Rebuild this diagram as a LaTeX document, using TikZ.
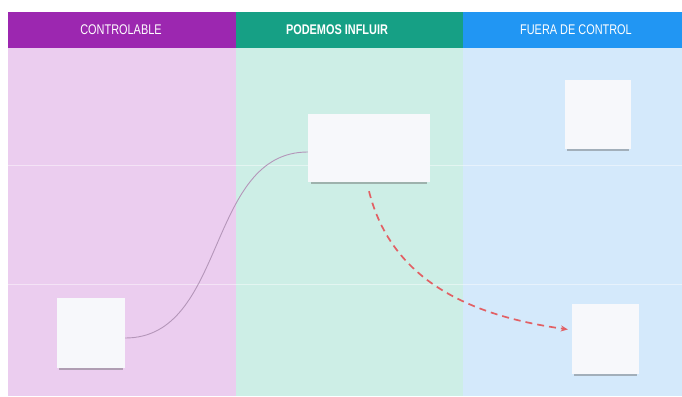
\documentclass[tikz,border=0pt]{standalone}
\usepackage{fontspec}
\setmainfont{Liberation Sans}
\usetikzlibrary{arrows.meta,shadows,positioning}

\definecolor{cabmorado}{RGB}{156,39,176}
\definecolor{cabverde}{RGB}{22,160,133}
\definecolor{cabazul}{RGB}{33,150,243}
\definecolor{fondomorado}{RGB}{235,205,239}
\definecolor{fondoverde}{RGB}{205,238,230}
\definecolor{fondoazul}{RGB}{212,233,251}
\definecolor{nota}{RGB}{247,248,251}
\definecolor{curva}{RGB}{180,150,185}
\definecolor{rojo}{RGB}{226,96,100}

\begin{document}
\begin{tikzpicture}[x=1pt, y=-1pt,
  titulo/.style={text=white, font=\addfontfeature{FakeStretch=0.78}\fontsize{14}{16}\selectfont, anchor=center},
  nota/.style={fill=nota, inner sep=0pt, drop shadow={shadow xshift=0pt, shadow yshift=-4pt, shadow scale=0.95, opacity=.4, fill=black!65}},
  flecha/.style={->, >={Stealth[length=7pt,width=6pt]}, draw=rojo, line width=1.7pt, dash pattern=on 7pt off 5pt, shorten >=4pt}]
\useasboundingbox (0,0) rectangle (682,396);
\fill[white] (0,0) rectangle (682,396);
% columnas
\fill[fondomorado] (8,48) rectangle (236,396);
\fill[fondoverde] (236,48) rectangle (463,396);
\fill[fondoazul] (463,48) rectangle (682,396);
\fill[cabmorado] (8,12) rectangle (236,48);
\fill[cabverde] (236,12) rectangle (463,48);
\fill[cabazul] (463,12) rectangle (682,48);
\draw[white, opacity=.45, line width=.8pt] (8,165) -- (682,165) (8,284) -- (682,284);
% titulos
\node[titulo] (tControl) at (121,30) {CONTROLABLE};
\node[titulo, font=\bfseries\addfontfeature{FakeStretch=0.78}\fontsize{14}{16}\selectfont] (tInfluir) at (337,30) {PODEMOS INFLUIR};
\node[titulo] (tFuera) at (576,30) {FUERA DE CONTROL};
% notas
\node[nota, minimum width=68pt, minimum height=70pt] (notaA) at (91,333) {};
\node[nota, minimum width=122pt, minimum height=68pt] (notaB) at (369,148) {};
\node[nota, minimum width=66pt, minimum height=69pt] (notaC) at (598,114.5) {};
\node[nota, minimum width=67pt, minimum height=70pt] (notaD) at (605.5,339) {};
% conectores
\draw[curva, line width=.9pt] ([yshift=-5pt]notaA.east) to[out=0, in=180] ([yshift=-4pt]notaB.west);
\draw[flecha] ([yshift=-9pt]notaB.south) to[out=-76, in=172] ([yshift=9pt]notaD.west);
\end{tikzpicture}
\end{document}
